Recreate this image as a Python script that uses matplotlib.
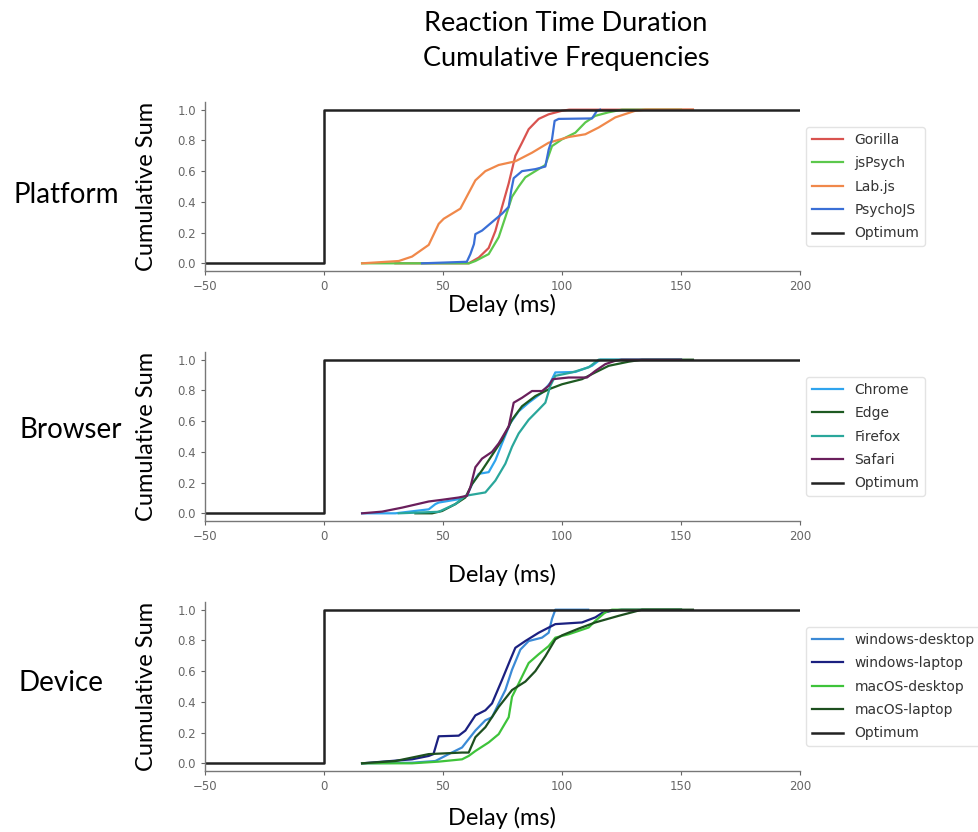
import numpy as np
import matplotlib
matplotlib.use("Agg")
from matplotlib import pyplot as plt

# ---- data ----
optimum_x = [-50, 0, 0, 200]
optimum_y = [0, 0, 1, 1]

# Platform
gorilla_x = [30, 60.8, 65, 69.2, 72, 74.8, 77.6, 80.4, 83.2, 86, 90.2, 94.4, 100, 103, 155]
gorilla_y = [0, 0, 0.037, 0.10, 0.21, 0.367, 0.52, 0.70, 0.785, 0.873, 0.94, 0.97, 0.993, 1.0, 1.0]
jspsych_x = [16, 61, 63.6, 69.2, 73.4, 76.2, 79, 81.8, 84.6, 88.8, 93, 95.8, 100, 105.6, 109.8, 114, 119.6, 125.2, 150]
jspsych_y = [0, 0, 0.015, 0.06, 0.17, 0.30, 0.433, 0.50, 0.56, 0.60, 0.64, 0.763, 0.807, 0.85, 0.917, 0.96, 0.983, 1.0, 1.0]
labjs_x = [16, 31.4, 37, 44, 48.2, 50.3, 57.3, 63.6, 67.8, 73.4, 80.4, 87.4, 94.4, 102.8, 109.8, 115.4, 122.4, 130.8, 135, 155]
labjs_y = [0, 0.015, 0.044, 0.12, 0.257, 0.29, 0.356, 0.54, 0.60, 0.64, 0.664, 0.72, 0.785, 0.822, 0.84, 0.884, 0.95, 0.993, 1.0, 1.0]
psychojs_x = [41.2, 60, 61.5, 63, 63.6, 66.4, 70.6, 74.8, 77.6, 78.7, 79.7, 83.2, 88.8, 93, 94.4, 95.8, 96.9, 98.6, 112.6, 114.7, 116]
psychojs_y = [0, 0.01, 0.06, 0.125, 0.19, 0.213, 0.268, 0.323, 0.367, 0.477, 0.554, 0.60, 0.613, 0.63, 0.74, 0.807, 0.927, 0.94, 0.943, 0.993, 1.0]

# Browser
chrome_x = [16, 30, 44, 46.8, 48.2, 56.6, 60.1, 62.2, 65, 69.2, 72, 74.8, 78.3, 81.8, 86, 91.6, 95.1, 97.2, 105.6, 112.6, 116, 150]
chrome_y = [0, 0, 0.026, 0.06, 0.07, 0.092, 0.114, 0.19, 0.257, 0.268, 0.345, 0.455, 0.587, 0.664, 0.72, 0.785, 0.85, 0.917, 0.92, 0.96, 1.0, 1.0]
edge_x = [38.4, 45.4, 49.6, 55.2, 59.4, 62.2, 66.4, 70.6, 74.8, 79, 83.2, 88.8, 94.4, 100, 108.4, 114, 119.6, 128, 133.6, 155]
edge_y = [0, 0, 0.015, 0.06, 0.103, 0.19, 0.28, 0.378, 0.477, 0.609, 0.697, 0.763, 0.807, 0.84, 0.873, 0.917, 0.96, 0.987, 1.0, 1.0]
firefox_x = [31.4, 48.2, 55.2, 59.4, 63.6, 67.8, 72, 76.2, 79, 81.8, 86, 90.2, 93, 95.1, 97.2, 104.2, 111.2, 115.4, 150]
firefox_y = [0, 0.01, 0.06, 0.114, 0.125, 0.136, 0.213, 0.323, 0.433, 0.52, 0.609, 0.675, 0.72, 0.83, 0.895, 0.917, 0.95, 1.0, 1.0]
safari_x = [16, 24.4, 32.8, 44, 49.6, 56.6, 60.1, 61.5, 63.6, 66.4, 70.6, 73.4, 77.6, 79.7, 83.2, 87.4, 91.6, 94.4, 96.1, 102.8, 110.5, 114, 118.2, 122.4, 125, 150]
safari_y = [0, 0.011, 0.037, 0.077, 0.088, 0.103, 0.114, 0.17, 0.30, 0.356, 0.40, 0.455, 0.565, 0.72, 0.752, 0.796, 0.796, 0.83, 0.873, 0.884, 0.884, 0.927, 0.971, 0.993, 1.0, 1.0]

# Device
win_desk_x = [16, 37, 46.8, 52.4, 58, 63.6, 67.8, 70.6, 73.4, 76.2, 79, 82.5, 86, 91.6, 94.4, 95.8, 97.2, 111]
win_desk_y = [0, 0.004, 0.015, 0.06, 0.103, 0.213, 0.28, 0.30, 0.39, 0.477, 0.609, 0.74, 0.796, 0.818, 0.85, 0.94, 1.0, 1.0]
win_lap_x = [16, 37, 44, 46, 48.2, 56.6, 59.4, 63.6, 67.8, 70.6, 74.8, 78.3, 80.4, 84.6, 90.2, 97.2, 108.4, 114, 116.8, 121, 125, 150]
win_lap_y = [0, 0.026, 0.048, 0.06, 0.176, 0.18, 0.213, 0.312, 0.345, 0.39, 0.543, 0.675, 0.752, 0.796, 0.85, 0.906, 0.917, 0.95, 0.978, 0.993, 1.0, 1.0]
mac_desk_x = [16, 37, 48.2, 58, 60.8, 63.6, 69.2, 73.4, 77.6, 79, 81.8, 86, 90.2, 94.4, 97.2, 102.8, 111.2, 114, 118.2, 121, 150]
mac_desk_y = [0, 0, 0.011, 0.026, 0.048, 0.08, 0.136, 0.19, 0.30, 0.433, 0.52, 0.653, 0.71, 0.763, 0.818, 0.84, 0.884, 0.927, 0.983, 1.0, 1.0]
mac_lap_x = [16, 30, 44, 58, 60.8, 63.6, 67.8, 73.4, 79, 84.6, 88.8, 93, 97.2, 100, 107, 114, 123.8, 133.6, 155]
mac_lap_y = [0, 0.015, 0.06, 0.07, 0.07, 0.17, 0.235, 0.367, 0.477, 0.532, 0.60, 0.697, 0.807, 0.833, 0.877, 0.917, 0.96, 1.0, 1.0]

panels = [
    ("Platform",
     [("Gorilla", gorilla_x, gorilla_y, "#d9534f"),
      ("jsPsych", jspsych_x, jspsych_y, "#5cc84c"),
      ("Lab.js", labjs_x, labjs_y, "#f0884a"),
      ("PsychoJS", psychojs_x, psychojs_y, "#3a6fd6")]),
    ("Browser",
     [("Chrome", chrome_x, chrome_y, "#2fa4ee"),
      ("Edge", edge_x, edge_y, "#1e5a22"),
      ("Firefox", firefox_x, firefox_y, "#2aa79b"),
      ("Safari", safari_x, safari_y, "#6a1f5c")]),
    ("Device",
     [("windows-desktop", win_desk_x, win_desk_y, "#3b8ad6"),
      ("windows-laptop", win_lap_x, win_lap_y, "#1b2080"),
      ("macOS-desktop", mac_desk_x, mac_desk_y, "#3ec33a"),
      ("macOS-laptop", mac_lap_x, mac_lap_y, "#1d4f1f")]),
]

W, H = 979, 832
fig = plt.figure(figsize=(W / 100, H / 100), dpi=100)

# pixel layout of each panel (top, bottom of axes), row label pos, xlabel offset
ax_left, ax_right = 205, 800
tops = [102, 352, 602]
bots = [271, 521, 771]
row_lbl = [(66, 195), (71, 430), (61, 683)]
xlab_y = [-0.20, -0.32, -0.28]

label_font = "Lato"

for i, (name, series) in enumerate(panels):
    ax = fig.add_axes([ax_left / W, 1 - bots[i] / H,
                       (ax_right - ax_left) / W, (bots[i] - tops[i]) / H])
    for lbl, xs, ys, col in series:
        ax.plot(xs, ys, color=col, lw=1.6, label=lbl)
    ax.plot(optimum_x, optimum_y, color="#222222", lw=1.8, label="Optimum")

    ax.set_xlim(-50, 200)
    ax.set_ylim(-0.05, 1.05)
    ax.set_xticks([-50, 0, 50, 100, 150, 200])
    ax.set_yticks([0.0, 0.2, 0.4, 0.6, 0.8, 1.0])
    ax.set_yticklabels(["0.0", "0.2", "0.4", "0.6", "0.8", "1.0"])
    ax.tick_params(labelsize=8.5, colors="#666666", length=3, width=0.8)
    for s in ["top", "right"]:
        ax.spines[s].set_visible(False)
    for s in ["left", "bottom"]:
        ax.spines[s].set_color("#777777")
        ax.spines[s].set_linewidth(1.0)

    ax.set_ylabel("Cumulative Sum", fontsize=17, family=label_font)
    ax.yaxis.set_label_coords(-0.081, 0.5)
    ax.set_xlabel("Delay (ms)", fontsize=17, family=label_font, va="center")
    ax.xaxis.set_label_coords(0.5, xlab_y[i])

    leg = ax.legend(loc="center left", bbox_to_anchor=(1.01, 0.5), fontsize=10,
                    frameon=True, handlelength=2.3, labelspacing=0.68, borderaxespad=0)
    leg.get_frame().set_edgecolor("#dddddd")
    for t in leg.get_texts():
        t.set_color("#333333")

    fig.text(row_lbl[i][0] / W, 1 - row_lbl[i][1] / H, name, fontsize=20,
             family=label_font, ha="center", va="center")

fig.text(566 / W, 1 - 41 / H, "Reaction Time Duration\nCumulative Frequencies",
         fontsize=19.5, family=label_font, ha="center", va="center", linespacing=1.5)

fig.savefig("out.png", dpi=100)
